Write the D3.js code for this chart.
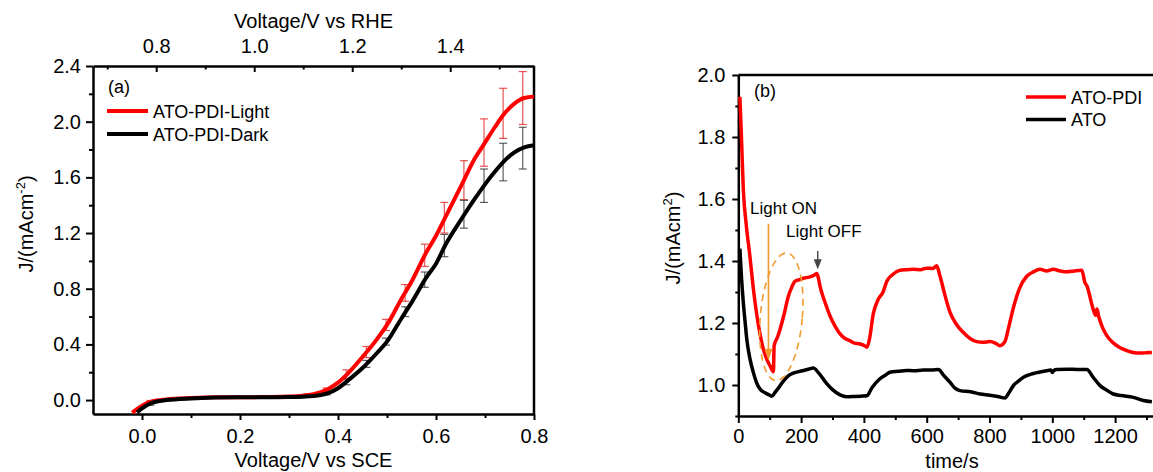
<!DOCTYPE html>
<html>
<head>
<meta charset="utf-8">
<script src="https://cdn.jsdelivr.net/npm/d3@7"></script>
<style>
  body { margin: 0; background: #fff; }
  svg { display: block; font-family: "Liberation Sans", Arial, sans-serif; }
  .axis path.domain { stroke: #000; stroke-width: 2.5; }
  .axis line { stroke: #000; stroke-width: 2; }
  .axis text { font-size: 20px; fill: #000; font-family: "Liberation Sans", Arial, sans-serif; }
</style>
</head>
<body>
<svg id="chart" width="1153" height="472"></svg>
<script>
// ---- panel (a): LSV curves, voltage vs SCE ----
var sceLight = [-0.02, 0.0, 0.02, 0.05, 0.1, 0.15, 0.2, 0.25, 0.3, 0.35, 0.38, 0.4, 0.42, 0.45, 0.48, 0.5, 0.53, 0.55, 0.58, 0.6, 0.62, 0.65, 0.68, 0.7, 0.72, 0.74, 0.76, 0.78, 0.8];
var jLight   = [-0.09, -0.04, -0.01, 0.005, 0.015, 0.02, 0.02, 0.022, 0.025, 0.042, 0.08, 0.125, 0.19, 0.31, 0.44, 0.54, 0.73, 0.85, 1.06, 1.18, 1.32, 1.53, 1.74, 1.85, 1.96, 2.06, 2.13, 2.17, 2.18];
var sceDark  = [-0.01, 0.0, 0.02, 0.05, 0.1, 0.15, 0.2, 0.25, 0.3, 0.35, 0.38, 0.4, 0.42, 0.45, 0.48, 0.5, 0.53, 0.55, 0.58, 0.6, 0.62, 0.65, 0.68, 0.7, 0.72, 0.74, 0.76, 0.78, 0.8];
var jDark    = [-0.09, -0.06, -0.02, 0.0, 0.012, 0.018, 0.02, 0.02, 0.022, 0.03, 0.05, 0.085, 0.14, 0.23, 0.34, 0.42, 0.59, 0.7, 0.88, 0.98, 1.12, 1.29, 1.45, 1.55, 1.64, 1.72, 1.78, 1.815, 1.83];

// error bars
var errV       = [0.017, 0.057, 0.097, 0.137, 0.177, 0.217, 0.257, 0.297, 0.337, 0.377, 0.417, 0.458, 0.498, 0.537, 0.577, 0.617, 0.657, 0.698, 0.737, 0.777];
var errLight   = [-0.015, 0.007, 0.015, 0.019, 0.02, 0.021, 0.022, 0.025, 0.036, 0.075, 0.187, 0.345, 0.54, 0.77, 1.04, 1.31, 1.58, 1.85, 2.06, 2.17];
var errLightSd = [0.012, 0.006, 0.005, 0.005, 0.005, 0.005, 0.005, 0.006, 0.008, 0.012, 0.03, 0.04, 0.04, 0.06, 0.08, 0.11, 0.14, 0.17, 0.18, 0.19];
var errDark    = [-0.025, 0.003, 0.012, 0.017, 0.019, 0.02, 0.02, 0.022, 0.028, 0.048, 0.13, 0.26, 0.42, 0.635, 0.865, 1.11, 1.335, 1.54, 1.71, 1.81];
var errDarkSd  = [0.012, 0.006, 0.005, 0.005, 0.005, 0.005, 0.005, 0.005, 0.007, 0.01, 0.02, 0.025, 0.025, 0.035, 0.055, 0.08, 0.1, 0.12, 0.135, 0.15];

var aLegend = ["ATO-PDI-Light", "ATO-PDI-Dark"];
var aYTicks = [0.0, 0.4, 0.8, 1.2, 1.6, 2.0, 2.4];
var aXTicks = [0.0, 0.2, 0.4, 0.6, 0.8];
var rheTicks = [0.8, 1.0, 1.2, 1.4];
var rheOffset = 0.771;

// ---- panel (b): chopped light chronoamperometry ----
var tPdi = [5, 10, 16, 25, 37, 48, 59, 70, 80, 90, 101, 112, 114, 125, 133, 145, 159, 170, 181, 195, 210, 225, 244, 250, 255, 260, 275, 292, 308, 324, 340, 355, 370, 385, 400, 410, 418, 430, 445, 461, 473, 490, 515, 535, 557, 580, 600, 620, 632, 640, 648, 658, 674, 695, 716, 738, 759, 780, 801, 820, 833, 849, 862, 875, 897, 918, 940, 961, 982, 1003, 1025, 1046, 1070, 1094, 1104, 1110, 1130, 1138, 1142, 1148, 1160, 1173, 1195, 1216, 1240, 1257, 1280, 1300, 1317];
var jPdi = [1.93, 1.80, 1.63, 1.52, 1.415, 1.31, 1.225, 1.16, 1.115, 1.085, 1.062, 1.043, 1.126, 1.155, 1.18, 1.225, 1.285, 1.315, 1.335, 1.34, 1.345, 1.348, 1.356, 1.36, 1.345, 1.32, 1.27, 1.223, 1.19, 1.165, 1.15, 1.143, 1.135, 1.133, 1.128, 1.122, 1.15, 1.23, 1.275, 1.30, 1.335, 1.355, 1.37, 1.372, 1.373, 1.372, 1.377, 1.376, 1.385, 1.36, 1.33, 1.29, 1.235, 1.195, 1.17, 1.15, 1.14, 1.138, 1.14, 1.134, 1.127, 1.14, 1.19, 1.245, 1.315, 1.35, 1.365, 1.373, 1.368, 1.373, 1.368, 1.365, 1.368, 1.37, 1.33, 1.32, 1.245, 1.225, 1.245, 1.22, 1.185, 1.16, 1.135, 1.12, 1.11, 1.105, 1.103, 1.104, 1.105];
var tAto = [5, 10, 16, 22, 27, 37, 48, 58, 69, 85, 100, 106, 120, 143, 160, 175, 200, 220, 239, 255, 281, 300, 324, 345, 370, 390, 409, 425, 451, 470, 483, 510, 535, 557, 590, 615, 637, 655, 674, 690, 706, 740, 770, 800, 830, 849, 862, 876, 895, 908, 940, 982, 995, 1000, 1005, 1014, 1050, 1080, 1110, 1130, 1152, 1175, 1194, 1220, 1258, 1290, 1317];
var jAto = [1.44, 1.35, 1.266, 1.2, 1.148, 1.085, 1.04, 1.008, 0.987, 0.975, 0.967, 0.964, 0.98, 1.012, 1.03, 1.038, 1.045, 1.05, 1.055, 1.04, 1.005, 0.985, 0.968, 0.962, 0.963, 0.964, 0.965, 0.99, 1.02, 1.033, 1.041, 1.044, 1.047, 1.046, 1.048, 1.048, 1.05, 1.03, 1.009, 0.99, 0.982, 0.978, 0.971, 0.967, 0.962, 0.958, 0.975, 0.998, 1.015, 1.025, 1.037, 1.046, 1.048, 1.04, 1.047, 1.05, 1.051, 1.05, 1.05, 1.025, 0.998, 0.982, 0.971, 0.966, 0.96, 0.95, 0.946];

var bLegend = ["ATO-PDI", "ATO"];
var bYTicks = [1.0, 1.2, 1.4, 1.6, 1.8, 2.0];
var bXTicks = [0, 200, 400, 600, 800, 1000, 1200];

var svg = d3.select("#chart");
var fmt1 = d3.format(".1f");

// ================= panel (a) =================
var xa = d3.scaleLinear().domain([-0.1, 0.8]).range([93, 534]);
var ya = d3.scaleLinear().domain([-0.1, 2.4]).range([414, 66]);
var xr = d3.scaleLinear().domain([-0.1 + rheOffset, 0.8 + rheOffset]).range([93, 534]);

var ga = svg.append("g");

// minor ticks first
ga.append("g").attr("class", "axis").attr("transform", "translate(0,414)")
	.call(d3.axisBottom(xa).tickValues([0.1, 0.3, 0.5, 0.7]).tickSize(4).tickFormat("").tickSizeOuter(0))
	.select(".domain").remove();
ga.append("g").attr("class", "axis").attr("transform", "translate(93,0)")
	.call(d3.axisLeft(ya).tickValues([0.2, 0.6, 1.0, 1.4, 1.8, 2.2]).tickSize(4).tickFormat("").tickSizeOuter(0))
	.select(".domain").remove();
ga.append("g").attr("class", "axis").attr("transform", "translate(0,66)")
	.call(d3.axisTop(xr).tickValues([0.7, 0.9, 1.1, 1.3, 1.5]).tickSize(-3.5).tickFormat("").tickSizeOuter(0))
	.select(".domain").remove();

ga.append("g").attr("class", "axis").attr("transform", "translate(0,414)")
	.call(d3.axisBottom(xa).tickValues(aXTicks).tickFormat(fmt1).tickSize(6).tickPadding(8.5).tickSizeOuter(0));
ga.append("g").attr("class", "axis").attr("transform", "translate(93,0)")
	.call(d3.axisLeft(ya).tickValues(aYTicks).tickFormat(fmt1).tickSize(7).tickPadding(5).tickSizeOuter(0));
ga.append("g").attr("class", "axis").attr("transform", "translate(0,66)")
	.call(d3.axisTop(xr).tickValues(rheTicks).tickFormat(fmt1).tickSize(-6).tickPadding(13).tickSizeOuter(0));
ga.append("line").attr("x1", 534).attr("x2", 534).attr("y1", 66).attr("y2", 414)
	.style("stroke", "#000").style("stroke-width", 2.5);

// error bars
function drawErr(g, xs, ys, centers, sds, colour) {
	for (var i = 0; i < xs.length; i++) {
		var x = xs[i], lo = ys(centers[i] - sds[i]), hi = ys(centers[i] + sds[i]);
		var px = g.xs(x);
		g.append("line").attr("x1", px).attr("x2", px).attr("y1", lo).attr("y2", hi)
			.style("stroke", colour).style("stroke-width", 1.2);
		g.append("line").attr("x1", px - 4).attr("x2", px + 4).attr("y1", lo).attr("y2", lo)
			.style("stroke", colour).style("stroke-width", 1.2);
		g.append("line").attr("x1", px - 4).attr("x2", px + 4).attr("y1", hi).attr("y2", hi)
			.style("stroke", colour).style("stroke-width", 1.2);
	}
}
var gErr = ga.append("g");
gErr.xs = xa;
drawErr(gErr, errV, ya, errLight, errLightSd, "rgba(228,40,40,0.8)");
drawErr(gErr, errV, ya, errDark, errDarkSd, "rgba(40,40,40,0.75)");

var lineA = d3.line().curve(d3.curveMonotoneX);
ga.append("path")
	.attr("d", lineA(sceLight.map(function(v, i) { return [xa(v), ya(jLight[i])]; })))
	.style("fill", "none").style("stroke", "#ff0000").style("stroke-width", 4);
ga.append("path")
	.attr("d", lineA(sceDark.map(function(v, i) { return [xa(v), ya(jDark[i])]; })))
	.style("fill", "none").style("stroke", "#000").style("stroke-width", 4);

// legend + labels
ga.append("text").attr("x", 108).attr("y", 93).text("(a)").style("font-size", "18px");
var legColA = ["#ff0000", "#000"];
for (var k = 0; k < aLegend.length; k++) {
	ga.append("line").attr("x1", 107).attr("x2", 148).attr("y1", 111 + k * 23).attr("y2", 111 + k * 23)
		.style("stroke", legColA[k]).style("stroke-width", 4);
	ga.append("text").attr("x", 153).attr("y", 117.5 + k * 23).text(aLegend[k]).style("font-size", "18px");
}
ga.append("text").attr("x", 313.5).attr("y", 467).attr("text-anchor", "middle")
	.style("font-size", "20px").text("Voltage/V vs SCE");
ga.append("text").attr("x", 313.5).attr("y", 28).attr("text-anchor", "middle")
	.style("font-size", "20px").text("Voltage/V vs RHE");
var ylabA = ga.append("text").attr("transform", "translate(33,224) rotate(-90)")
	.attr("text-anchor", "middle").style("font-size", "20px");
ylabA.append("tspan").text("J/(mAcm");
ylabA.append("tspan").attr("dy", -8).style("font-size", "13px").text("-2");
ylabA.append("tspan").attr("dy", 8).text(")");

// ================= panel (b) =================
var xb = d3.scaleLinear().domain([0, 1320]).range([738.3, 1152.8]);
var yb = d3.scaleLinear().domain([0.9, 2.0]).range([416, 75]);
var gb = svg.append("g");

gb.append("g").attr("class", "axis").attr("transform", "translate(0,416)")
	.call(d3.axisBottom(xb).tickValues([100, 300, 500, 700, 900, 1100, 1300]).tickSize(4).tickFormat("").tickSizeOuter(0))
	.select(".domain").remove();
gb.append("g").attr("class", "axis").attr("transform", "translate(738.3,0)")
	.call(d3.axisLeft(yb).tickValues([0.9, 1.1, 1.3, 1.5, 1.7, 1.9]).tickSize(3).tickFormat("").tickSizeOuter(0))
	.select(".domain").remove();
gb.append("g").attr("class", "axis").attr("transform", "translate(0,416)")
	.call(d3.axisBottom(xb).tickValues(bXTicks).tickFormat(d3.format("d")).tickSize(7).tickPadding(6).tickSizeOuter(0));
gb.append("g").attr("class", "axis").attr("transform", "translate(738.3,0)")
	.call(d3.axisLeft(yb).tickValues(bYTicks).tickFormat(fmt1).tickSize(6).tickPadding(7).tickSizeOuter(0));
gb.append("line").attr("x1", 738.3).attr("x2", 1153).attr("y1", 75).attr("y2", 75)
	.style("stroke", "#000").style("stroke-width", 2.5);

var lineB = d3.line().curve(d3.curveMonotoneX);
gb.append("path")
	.attr("d", lineB(tPdi.map(function(t, i) { return [xb(t), yb(jPdi[i])]; })))
	.style("fill", "none").style("stroke", "#ff0000").style("stroke-width", 3.5).style("stroke-linejoin", "round");
gb.append("path")
	.attr("d", lineB(tAto.map(function(t, i) { return [xb(t), yb(jAto[i])]; })))
	.style("fill", "none").style("stroke", "#000").style("stroke-width", 3.5).style("stroke-linejoin", "round");

// annotations
var orange = "#f39a2e";
gb.append("ellipse").attr("cx", xb(137)).attr("cy", yb(1.22)).attr("rx", 21).attr("ry", 64)
	.attr("transform", "rotate(5," + xb(137) + "," + yb(1.22) + ")")
	.style("fill", "none").style("stroke", orange).style("stroke-width", 1.6).style("stroke-dasharray", "7,5");
gb.append("line").attr("x1", xb(96)).attr("x2", xb(96)).attr("y1", yb(1.52)).attr("y2", yb(1.11))
	.style("stroke", orange).style("stroke-width", 1.6);
gb.append("path")
	.attr("d", "M" + (xb(96) - 4) + "," + (yb(1.078) - 12) + "L" + (xb(96) + 4) + "," + (yb(1.078) - 12) + "L" + xb(96) + "," + yb(1.078) + "Z")
	.style("fill", orange);
gb.append("text").attr("x", 750).attr("y", 214).style("font-size", "17px").text("Light ON");
gb.append("text").attr("x", 786).attr("y", 237).style("font-size", "17px").text("Light OFF");
gb.append("line").attr("x1", xb(253)).attr("x2", xb(253)).attr("y1", yb(1.432)).attr("y2", yb(1.40))
	.style("stroke", "#444").style("stroke-width", 1.4);
gb.append("path")
	.attr("d", "M" + (xb(253) - 4) + "," + (yb(1.373) - 10) + "L" + (xb(253) + 4) + "," + (yb(1.373) - 10) + "L" + xb(253) + "," + yb(1.373) + "Z")
	.style("fill", "#444");

gb.append("text").attr("x", 754).attr("y", 97).text("(b)").style("font-size", "18px");
var legColB = ["#ff0000", "#000"];
for (var m = 0; m < bLegend.length; m++) {
	gb.append("line").attr("x1", 1026).attr("x2", 1066).attr("y1", 97 + m * 22.5).attr("y2", 97 + m * 22.5)
		.style("stroke", legColB[m]).style("stroke-width", 3.5);
	gb.append("text").attr("x", 1071).attr("y", 103.5 + m * 22.5).text(bLegend[m]).style("font-size", "18px");
}
gb.append("text").attr("x", 952).attr("y", 468).attr("text-anchor", "middle")
	.style("font-size", "20px").text("time/s");
var ylabB = gb.append("text").attr("transform", "translate(680,238) rotate(-90)")
	.attr("text-anchor", "middle").style("font-size", "20px");
ylabB.append("tspan").text("J/(mAcm");
ylabB.append("tspan").attr("dy", -8).style("font-size", "13px").text("2");
ylabB.append("tspan").attr("dy", 8).text(")");
</script>
</body>
</html>
